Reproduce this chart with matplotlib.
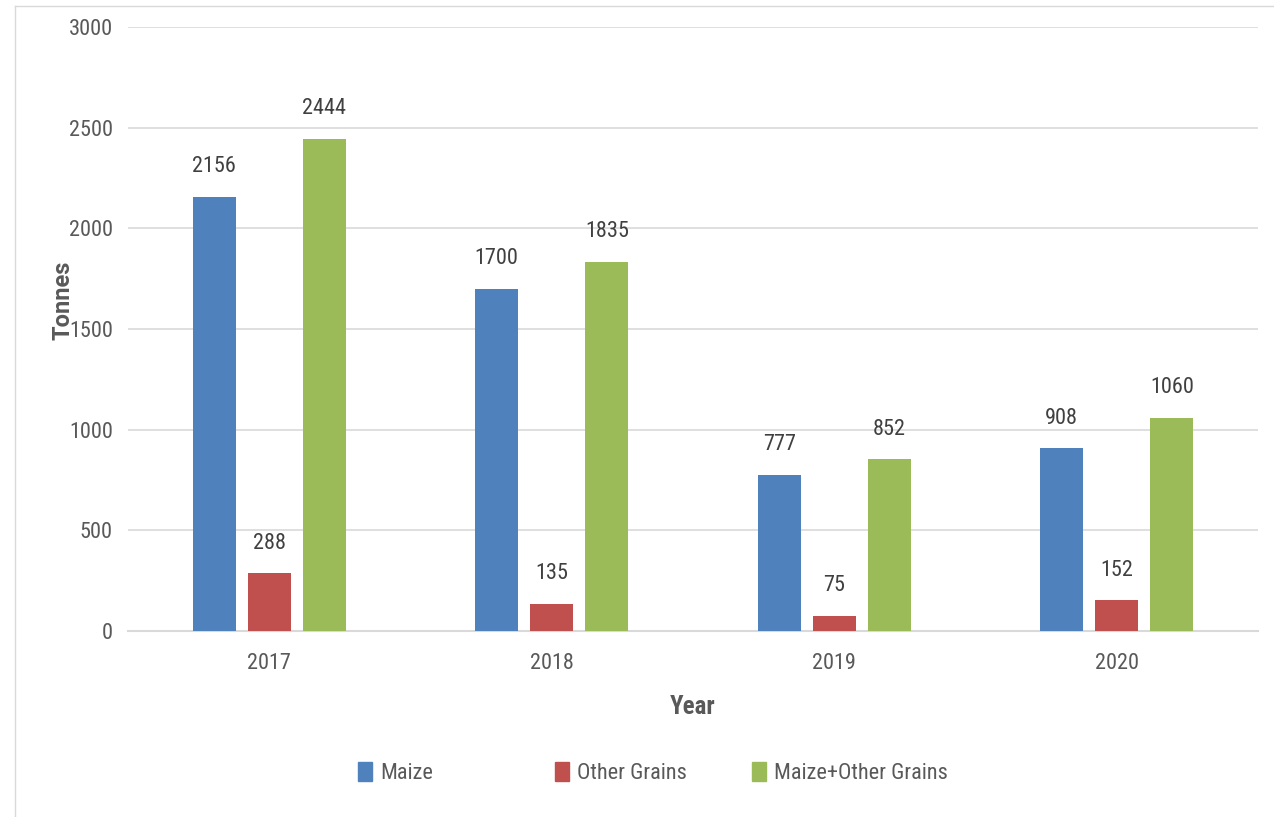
import numpy as np
import matplotlib
matplotlib.use("Agg")
import matplotlib.pyplot as plt
from matplotlib import font_manager
from matplotlib.patches import Patch
from matplotlib.lines import Line2D

# data
years = ["2017", "2018", "2019", "2020"]
maize = [2156, 1700, 777, 908]
other_grains = [288, 135, 75, 152]
maize_plus_other = [2444, 1835, 852, 1060]
series_names = ["Maize", "Other Grains", "Maize+Other Grains"]
series_colors = ["#4F81BD", "#C0504D", "#9BBB59"]

# pick a narrow font if one is installed
available = set(f.name for f in font_manager.fontManager.ttflist)
family = "DejaVu Sans"
for name in ["Roboto Condensed", "Liberation Sans Narrow", "Roboto"]:
    if name in available:
        family = name
        break
plt.rcParams["font.family"] = [family, "DejaVu Sans"]

fig = plt.figure(figsize=(12.74, 8.17), dpi=100)
ax = fig.add_axes([0.1005, 0.2277, 0.887, 0.7393])

x = np.arange(len(years))
width = 0.152
offset = 0.195
all_series = [maize, other_grains, maize_plus_other]
for i in range(len(all_series)):
    pos = x + (i - 1) * offset
    ax.bar(pos, all_series[i], width, color=series_colors[i], zorder=3)
    for px, val in zip(pos, all_series[i]):
        ax.annotate(str(val), (px, val), xytext=(0, 14), textcoords="offset points",
                    ha="center", va="bottom", fontsize=16, color="#404040")

ax.set_xlim(-0.5, len(years) - 0.5)
ax.set_ylim(0, 3000)
ax.set_yticks(np.arange(0, 3001, 500))
ax.set_xticks(x)
ax.set_xticklabels(years)
ax.tick_params(axis="both", length=0, labelsize=16, labelcolor="#595959")
ax.tick_params(axis="y", pad=11)
ax.tick_params(axis="x", pad=16)
ax.grid(axis="y", color="#D9D9D9", linewidth=1.2, zorder=0)
for side in ["top", "right", "left"]:
    ax.spines[side].set_visible(False)
ax.spines["bottom"].set_color("#D9D9D9")
ax.spines["bottom"].set_linewidth(1.5)

ax.set_xlabel("Year", fontsize=18, fontweight="bold", color="#595959", labelpad=15)
fig.text(63 / 1274, 1 - 300 / 817, "Tonnes", rotation=90, ha="center", va="center",
         fontsize=17, fontweight="bold", color="#595959", family=["Roboto", "DejaVu Sans"])

# legend entries, evenly spaced like the original
legend_x = [358 / 1274, 555 / 1274, 752 / 1274]
for i in range(len(series_names)):
    fig.legend(handles=[Patch(color=series_colors[i])], labels=[series_names[i]],
               loc="center left", bbox_to_anchor=(legend_x[i], 1 - 773 / 817),
               frameon=False, fontsize=16, handlelength=0.65, handleheight=0.95,
               handletextpad=0.35, borderaxespad=0, borderpad=0, labelcolor="#595959")

# faint outer frame
fig.add_artist(Line2D([15 / 1274, 15 / 1274], [0, 1 - 6 / 817], transform=fig.transFigure,
                      color="#D9D9D9", linewidth=1))
fig.add_artist(Line2D([15 / 1274, 1], [1 - 6 / 817, 1 - 6 / 817], transform=fig.transFigure,
                      color="#D9D9D9", linewidth=1))

fig.savefig("out.png", dpi=100)
